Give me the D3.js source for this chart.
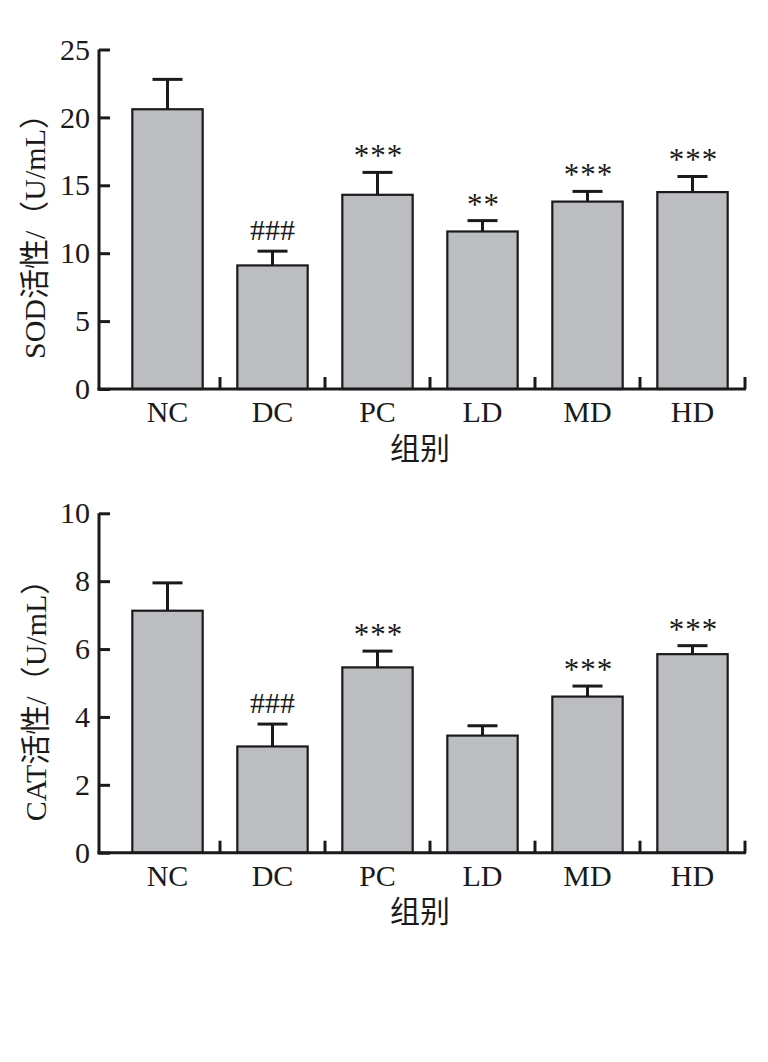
<!DOCTYPE html>
<html>
<head>
<meta charset="utf-8">
<script src="https://cdn.jsdelivr.net/npm/d3@7"></script>
<style>
  body { margin: 0; background: #fff; }
  text { font-family: "Liberation Serif", "Noto Sans CJK SC", serif; fill: #1a1a1a; }
</style>
</head>
<body>
<svg id="chart" width="768" height="1062"></svg>
<script>
// 数据
const groups = ['NC', 'DC', 'PC', 'LD', 'MD', 'HD'];

const sodMean = [20.6, 9.1, 14.3, 11.6, 13.8, 14.5];
const sodErr = [2.2, 1.05, 1.65, 0.8, 0.75, 1.15];
const sodMarks = ['', '###', '***', '**', '***', '***'];
const sodTicks = [0, 5, 10, 15, 20, 25];

const catMean = [7.13, 3.13, 5.46, 3.45, 4.6, 5.85];
const catErr = [0.82, 0.66, 0.48, 0.29, 0.31, 0.25];
const catMarks = ['', '###', '***', '', '***', '***'];
const catTicks = [0, 2, 4, 6, 8, 10];

const svg = d3.select('#chart');

function drawPanel(opt) {
    const g = svg.append('g');
    const axisX = 99;
    const x = d3.scaleBand().domain(groups).range([115, 745]).paddingInner(0.33).paddingOuter(0.165);
    const y = d3.scaleLinear().domain([0, opt.ticks[opt.ticks.length - 1]]).range([opt.y0, opt.yTop]);

    // 柱子
    g.selectAll('rect.bar').data(opt.mean).enter().append('rect')
        .attr('x', (d, i) => x(groups[i]))
        .attr('y', d => y(d))
        .attr('width', x.bandwidth())
        .attr('height', d => y(0) - y(d))
        .attr('fill', '#bcbdc1')
        .attr('stroke', '#1a1a1a')
        .attr('stroke-width', 2.2);

    // 误差线
    opt.mean.forEach((m, i) => {
        const cx = x(groups[i]) + x.bandwidth() / 2;
        g.append('line')
            .attr('x1', cx).attr('x2', cx)
            .attr('y1', y(m)).attr('y2', y(m + opt.err[i]))
            .attr('stroke', '#1a1a1a').attr('stroke-width', 3);
        g.append('line')
            .attr('x1', cx - 15).attr('x2', cx + 15)
            .attr('y1', y(m + opt.err[i])).attr('y2', y(m + opt.err[i]))
            .attr('stroke', '#1a1a1a').attr('stroke-width', 3);
        // 显著性标记
        if (opt.marks[i]) {
            const isHash = opt.marks[i][0] === '#';
            g.append('text')
                .attr('x', cx + (isHash ? 0 : 1))
                .attr('y', y(m + opt.err[i]) - (isHash ? 11 : 6))
                .attr('text-anchor', 'middle')
                .attr('font-size', isHash ? '30px' : '31px')
                .attr('letter-spacing', isHash ? '0px' : '1px')
                .text(opt.marks[i]);
        }
    });

    // y 轴（刻度朝内）
    const yAxis = g.append('g')
        .attr('transform', `translate(${axisX},0)`)
        .call(d3.axisLeft(y).tickValues(opt.ticks).tickSize(-11).tickSizeOuter(0).tickPadding(9));
    yAxis.select('.domain').attr('stroke', '#1a1a1a').attr('stroke-width', 3)
        .attr('d', `M0,${y(0) + 1.5}V${opt.yTop}`);
    yAxis.selectAll('.tick line').attr('stroke', '#1a1a1a').attr('stroke-width', 3);
    yAxis.selectAll('.tick text').attr('font-size', '30px').attr('fill', '#1a1a1a')
        .attr('font-family', '"Liberation Serif", serif');

    // x 轴
    const xAxis = g.append('g')
        .attr('transform', `translate(0,${y(0)})`)
        .call(d3.axisBottom(x).tickSize(0).tickPadding(12));
    xAxis.select('.domain').remove();
    xAxis.selectAll('.tick text').attr('font-size', '30px').attr('fill', '#1a1a1a')
        .attr('font-family', '"Liberation Serif", serif');

    g.append('line')
        .attr('x1', axisX - 1.5).attr('x2', 746)
        .attr('y1', y(0)).attr('y2', y(0))
        .attr('stroke', '#1a1a1a').attr('stroke-width', 3);

    // 组间刻度（朝上）
    groups.forEach((d, i) => {
        const bx = x(d) + x.bandwidth() + x.step() * x.paddingInner() / 2;
        g.append('line')
            .attr('x1', bx).attr('x2', bx)
            .attr('y1', y(0)).attr('y2', y(0) - 12)
            .attr('stroke', '#1a1a1a').attr('stroke-width', 3);
    });

    // 轴标题
    g.append('text')
        .attr('transform', `translate(${opt.ylabX},${opt.ylabY}) rotate(-90)`)
        .attr('text-anchor', 'middle')
        .attr('font-size', '30px')
        .text(opt.ylabel);

    g.append('text')
        .attr('x', 420)
        .attr('y', opt.xlabY)
        .attr('text-anchor', 'middle')
        .attr('font-size', '30px')
        .text('组别');
}

drawPanel({
    mean: sodMean, err: sodErr, marks: sodMarks, ticks: sodTicks,
    y0: 389, yTop: 49.5,
    ylabel: 'SOD活性/（U/mL）', ylabX: 45, ylabY: 229, xlabY: 459
});

drawPanel({
    mean: catMean, err: catErr, marks: catMarks, ticks: catTicks,
    y0: 852.7, yTop: 513.3,
    ylabel: 'CAT活性/（U/mL）', ylabX: 46, ylabY: 693, xlabY: 922
});
</script>
</body>
</html>
